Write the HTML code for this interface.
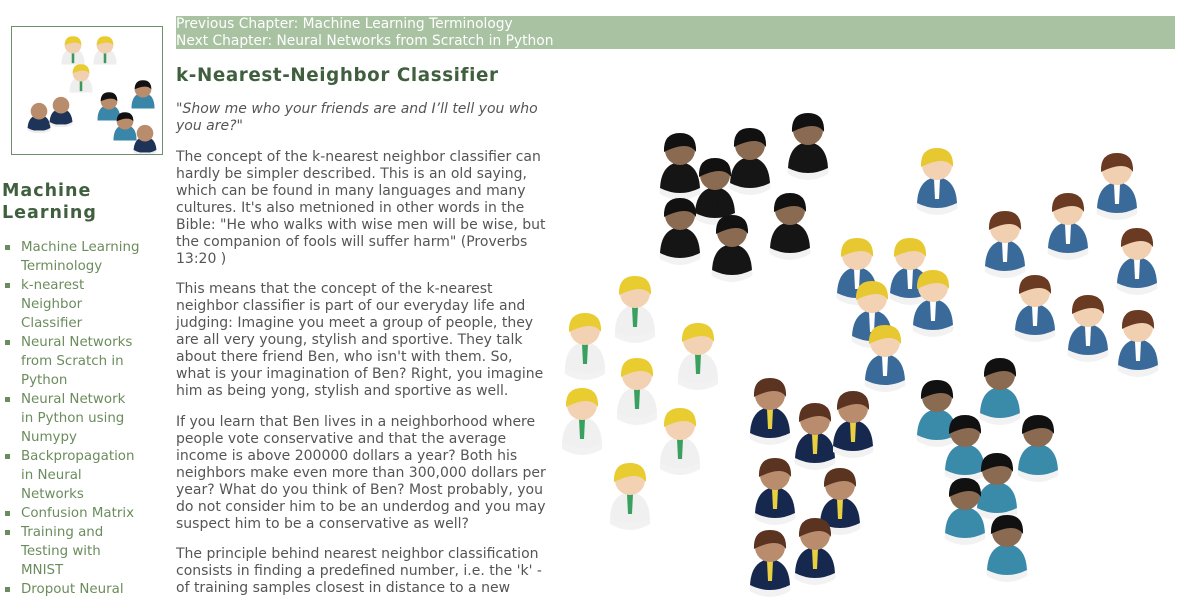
<!DOCTYPE html>
<html><head><meta charset="utf-8">
<style>
body{margin:0;width:1183px;height:603px;overflow:hidden;background:#fff;font-family:"DejaVu Sans","Liberation Sans",sans-serif;position:relative}
.a{position:absolute;white-space:nowrap}
.nav{position:absolute;left:176px;top:16px;width:999px;height:33px;background:#a8c2a2;color:#fff;font-size:13.8px;line-height:17px}
.p{position:absolute;left:176px;font-size:14px;line-height:17px;color:#555;white-space:nowrap}
.side{position:absolute;left:21px;top:238px;font-size:13.4px;line-height:19px;color:#6b8c5c;white-space:nowrap}
.b{position:absolute;left:5px;width:5px;height:5px;background:#6b8c5c}
</style></head><body>
<div class="a" style="left:11px;top:26px;width:150px;height:127px;border:1px solid #6d8f6d;overflow:hidden">
<svg width="150" height="127"><defs>
<symbol id="m" viewBox="-20 -16 40 50"><path d="M-18 30 Q-18 6 0 6 Q18 6 18 30 Z" fill="#1e3358"/><path d="M-18 26 Q0 36 18 26 L18 30 Q0 40 -18 30Z" fill="#eee"/><circle r="13" fill="#b98c6c"/></symbol>
<symbol id="t" viewBox="-20 -16 40 50"><path d="M-18 30 Q-18 6 0 6 Q18 6 18 30 Z" fill="#3a86a8"/><circle r="13" fill="#b98c6c"/><path d="M-13 0 Q-13 -14 0 -14 Q13 -14 13 0 Q6 -8 -13 0Z" fill="#111"/></symbol>
<symbol id="w" viewBox="-20 -16 40 50"><path d="M-18 30 Q-18 6 0 6 Q18 6 18 30 Z" fill="#eee"/><path d="M-2 10 L2 10 L2 28 L-2 28Z" fill="#3a9a5a"/><circle r="13" fill="#f0d0b0"/><path d="M-13 0 Q-13 -14 0 -14 Q13 -14 13 0 Q6 -8 -13 0Z" fill="#e8cc30"/></symbol>
</defs>
<use href="#w" x="48" y="8" width="26" height="32"/><use href="#w" x="80" y="8" width="26" height="32"/><use href="#w" x="56" y="36" width="26" height="32"/>
<use href="#m" x="14" y="74" width="26" height="32"/><use href="#m" x="36" y="68" width="26" height="32"/><use href="#t" x="84" y="64" width="26" height="32"/><use href="#t" x="118" y="52" width="26" height="32"/><use href="#t" x="100" y="84" width="26" height="32"/><use href="#m" x="120" y="96" width="26" height="32"/>
</svg></div>
<div class="a" style="left:2px;top:180px;font-size:17.5px;font-weight:bold;line-height:22px;color:#3f5f3f;letter-spacing:1px">Machine<br>Learning</div>
<div class="b" style="top:245px"></div><div class="b" style="top:283px"></div><div class="b" style="top:340px"></div><div class="b" style="top:397px"></div><div class="b" style="top:454px"></div><div class="b" style="top:511px"></div><div class="b" style="top:530px"></div><div class="b" style="top:587px"></div>
<div class="side">Machine Learning<br>Terminology<br>k-nearest<br>Neighbor<br>Classifier<br>Neural Networks<br>from Scratch in<br>Python<br>Neural Network<br>in Python using<br>Numypy<br>Backpropagation<br>in Neural<br>Networks<br>Confusion Matrix<br>Training and<br>Testing with<br>MNIST<br>Dropout Neural</div>
<div class="nav">Previous Chapter: Machine Learning Terminology<br>Next Chapter: Neural Networks from Scratch in Python</div>
<div class="a" style="left:176px;top:65px;font-size:18.3px;font-weight:bold;color:#3f5f3f;letter-spacing:0.6px;line-height:22px">k-Nearest-Neighbor Classifier</div>
<div class="p" style="top:101px;font-style:italic">"Show me who your friends are and I’ll tell you who<br>you are?"</div>
<div class="p" style="top:149px">The concept of the k-nearest neighbor classifier can<br>hardly be simpler described. This is an old saying,<br>which can be found in many languages and many<br>cultures. It's also metnioned in other words in the<br>Bible: "He who walks with wise men will be wise, but<br>the companion of fools will suffer harm" (Proverbs<br>13:20 )</div>
<div class="p" style="top:281px">This means that the concept of the k-nearest<br>neighbor classifier is part of our everyday life and<br>judging: Imagine you meet a group of people, they<br>are all very young, stylish and sportive. They talk<br>about there friend Ben, who isn't with them. So,<br>what is your imagination of Ben? Right, you imagine<br>him as being yong, stylish and sportive as well.</div>
<div class="p" style="top:414px">If you learn that Ben lives in a neighborhood where<br>people vote conservative and that the average<br>income is above 200000 dollars a year? Both his<br>neighbors make even more than 300,000 dollars per<br>year? What do you think of Ben? Most probably, you<br>do not consider him to be an underdog and you may<br>suspect him to be a conservative as well?</div>
<div class="p" style="top:546px">The principle behind nearest neighbor classification<br>consists in finding a predefined number, i.e. the 'k' -<br>of training samples closest in distance to a new</div>
<svg class="a" style="left:0;top:0" width="1183" height="603"><defs>
<symbol id="P" overflow="visible"><path d="M-20 44 Q-21 14 0 12 Q21 14 20 44 Z" fill="var(--c)"/><path d="M-20 38 Q0 48 20 38 L20 44 Q0 56 -20 44Z" fill="#f2f2f2"/><path d="M-3 14 L3 14 L2 34 L-2 34Z" fill="var(--tie)"/><circle r="15" fill="var(--s)"/><path d="M-16 2 Q-17 -17 0 -17 Q17 -17 16 2 Q8 -10 -16 2Z" fill="var(--h)"/></symbol>
</defs>
<g style="--c:#151515;--s:#8a6a50;--h:#111;--tie:#151515">
<use href="#P" x="680" y="150"/><use href="#P" x="750" y="145"/><use href="#P" x="808" y="130"/><use href="#P" x="715" y="175"/><use href="#P" x="680" y="215"/><use href="#P" x="790" y="210"/><use href="#P" x="732" y="232"/></g>
<g style="--c:#3a6a9a;--s:#f2d2b2;--h:#e8c830;--tie:#fff">
<use href="#P" x="937" y="165"/><use href="#P" x="857" y="255"/><use href="#P" x="910" y="255"/><use href="#P" x="872" y="298"/><use href="#P" x="933" y="287"/><use href="#P" x="885" y="342"/></g>
<g style="--c:#3a6a9a;--s:#f0d0b0;--h:#6a3a22;--tie:#fff">
<use href="#P" x="1117" y="170"/><use href="#P" x="1005" y="228"/><use href="#P" x="1068" y="210"/><use href="#P" x="1137" y="245"/><use href="#P" x="1035" y="292"/><use href="#P" x="1088" y="312"/><use href="#P" x="1138" y="327"/></g>
<g style="--c:#f0f0f0;--s:#f2d2b2;--h:#e8cc30;--tie:#3aa060">
<use href="#P" x="635" y="293"/><use href="#P" x="585" y="330"/><use href="#P" x="698" y="340"/><use href="#P" x="637" y="375"/><use href="#P" x="582" y="405"/><use href="#P" x="680" y="425"/><use href="#P" x="630" y="480"/></g>
<g style="--c:#17284e;--s:#b88c6c;--h:#5a3420;--tie:#e8d040">
<use href="#P" x="770" y="395"/><use href="#P" x="815" y="420"/><use href="#P" x="853" y="408"/><use href="#P" x="775" y="475"/><use href="#P" x="840" y="485"/><use href="#P" x="770" y="547"/><use href="#P" x="815" y="535"/></g>
<g style="--c:#3a8aaa;--s:#8a6a50;--h:#111;--tie:#3a8aaa">
<use href="#P" x="1000" y="375"/><use href="#P" x="937" y="397"/><use href="#P" x="965" y="432"/><use href="#P" x="1038" y="432"/><use href="#P" x="997" y="470"/><use href="#P" x="965" y="495"/><use href="#P" x="1007" y="532"/></g>
</svg>
</body></html>
